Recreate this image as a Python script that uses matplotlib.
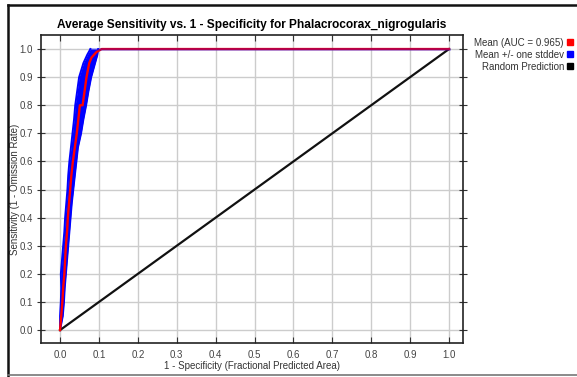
import numpy as np
import matplotlib
matplotlib.use("Agg")
import matplotlib.pyplot as plt
from matplotlib.lines import Line2D

plt.rcParams['font.family'] = ['Liberation Sans', 'DejaVu Sans']

# mean ROC curve (1 - specificity, sensitivity)
mean_fpr = [0.0, 0.003, 0.006, 0.008, 0.011, 0.013, 0.015, 0.018, 0.020, 0.023, 0.026,
            0.029, 0.033, 0.038, 0.043, 0.047, 0.051, 0.058, 0.063, 0.068, 0.075,
            0.081, 0.094, 0.107, 1.0]
mean_tpr = [0.0, 0.05, 0.10, 0.15, 0.20, 0.25, 0.30, 0.35, 0.40, 0.45, 0.50,
            0.55, 0.60, 0.65, 0.70, 0.75, 0.80, 0.80, 0.85, 0.90, 0.95,
            0.97, 0.99, 1.0, 1.0]

# +/- one stddev band, as x-extent at each sensitivity level
band_tpr = [0.0, 0.05, 0.10, 0.15, 0.20, 0.25, 0.30, 0.35, 0.40, 0.45, 0.50, 0.55,
            0.60, 0.65, 0.70, 0.75, 0.80, 0.85, 0.90, 0.95, 0.98, 1.0]
band_lo = [0.0, 0.0, 0.002, 0.003, 0.002, 0.005, 0.008, 0.011, 0.013, 0.016, 0.019, 0.021,
           0.024, 0.028, 0.032, 0.036, 0.039, 0.044, 0.049, 0.060, 0.070, 0.078]
band_hi = [0.0, 0.007, 0.010, 0.012, 0.015, 0.018, 0.021, 0.024, 0.027, 0.030, 0.034, 0.038,
           0.042, 0.046, 0.054, 0.060, 0.067, 0.073, 0.080, 0.090, 0.096, 0.098]
band_top_x = [0.078, 1.0]
band_top_y = [1.0, 1.0]

random_x = [0.0, 1.0]
random_y = [0.0, 1.0]

legend_labels = ['Mean (AUC = 0.965)', 'Mean +/- one stddev', 'Random Prediction']
legend_colors = ['#ff0000', '#0000ff', '#000000']

ticks = np.round(np.arange(0, 1.01, 0.1), 1)

W, H = 577, 377
fig = plt.figure(figsize=(W / 100, H / 100), dpi=100)
ax = fig.add_axes([41 / W, 1 - 343 / H, (463 - 41) / W, (343 - 35) / H])

ax.set_xlim(-0.049, 1.036)
ax.set_ylim(-0.046, 1.05)
ax.set_xticks(ticks)
ax.set_yticks(ticks)
ax.set_xticklabels([f'{t:.1f}' for t in ticks])
ax.set_yticklabels([f'{t:.1f}' for t in ticks])
ax.grid(True, color='#cccccc', linewidth=1.0)
ax.set_axisbelow(True)

ax.tick_params(axis='both', labelsize=7, colors='#333333', labelcolor='#444444')
ax.tick_params(axis='x', direction='in', length=4, top=True, pad=5)
ax.tick_params(axis='y', direction='inout', length=6, right=True, pad=3)
for s in ax.spines.values():
    s.set_color('#222222')
    s.set_linewidth(1.2)

# stddev band
ax.fill_betweenx(band_tpr, band_lo, band_hi, color='#0000ff', lw=0)
ax.plot(band_lo, band_tpr, color='#0000ff', lw=1.4)
ax.plot(band_hi, band_tpr, color='#0000ff', lw=1.4)

# random prediction
ax.plot(random_x, random_y, color='#111111', lw=1.6)

# mean
ax.plot(mean_fpr, mean_tpr, color='#ff0000', lw=1.7)

# stddev overlapping the mean along the top
ax.plot(band_top_x, band_top_y, color='#0000ff', lw=1.9, alpha=0.32)

ax.set_title('Average Sensitivity vs. 1 - Specificity for Phalacrocorax_nigrogularis',
             fontsize=8.6, fontweight='bold', pad=5)
ax.set_xlabel('1 - Specificity (Fractional Predicted Area)', fontsize=7, color='#333333')
ax.set_ylabel('Sensitivity (1 - Omission Rate)', fontsize=7, color='#333333')
ax.xaxis.set_label_coords(0.5, -(366 - 343) / 308, transform=ax.transAxes)
ax.yaxis.set_label_coords((15 - 41) / 422, 0.5, transform=ax.transAxes)
ax.xaxis.label.set_va('center')
ax.yaxis.label.set_va('center')

# legend on the right
for i, (lab, col) in enumerate(zip(legend_labels, legend_colors)):
    yy = 1 - (43 + 12 * i) / H
    fig.text(564 / W, yy, lab, ha='right', va='center', fontsize=7, color='#333333')
    fig.add_artist(Line2D([570 / W], [yy + 1 / H], marker='s', markersize=4,
                          color=col, transform=fig.transFigure))

# outer frame
fig.add_artist(Line2D([8 / W, 1], [1 - 5 / H, 1 - 5 / H], color='#111111', lw=1.8,
                      transform=fig.transFigure))
fig.add_artist(Line2D([8 / W, 8 / W], [0, 1 - 5 / H], color='#111111', lw=1.8,
                      transform=fig.transFigure))
fig.add_artist(Line2D([8 / W, 1], [2 / H, 2 / H], color='#777777', lw=1.2,
                      transform=fig.transFigure))

fig.savefig('out.png', dpi=100)
